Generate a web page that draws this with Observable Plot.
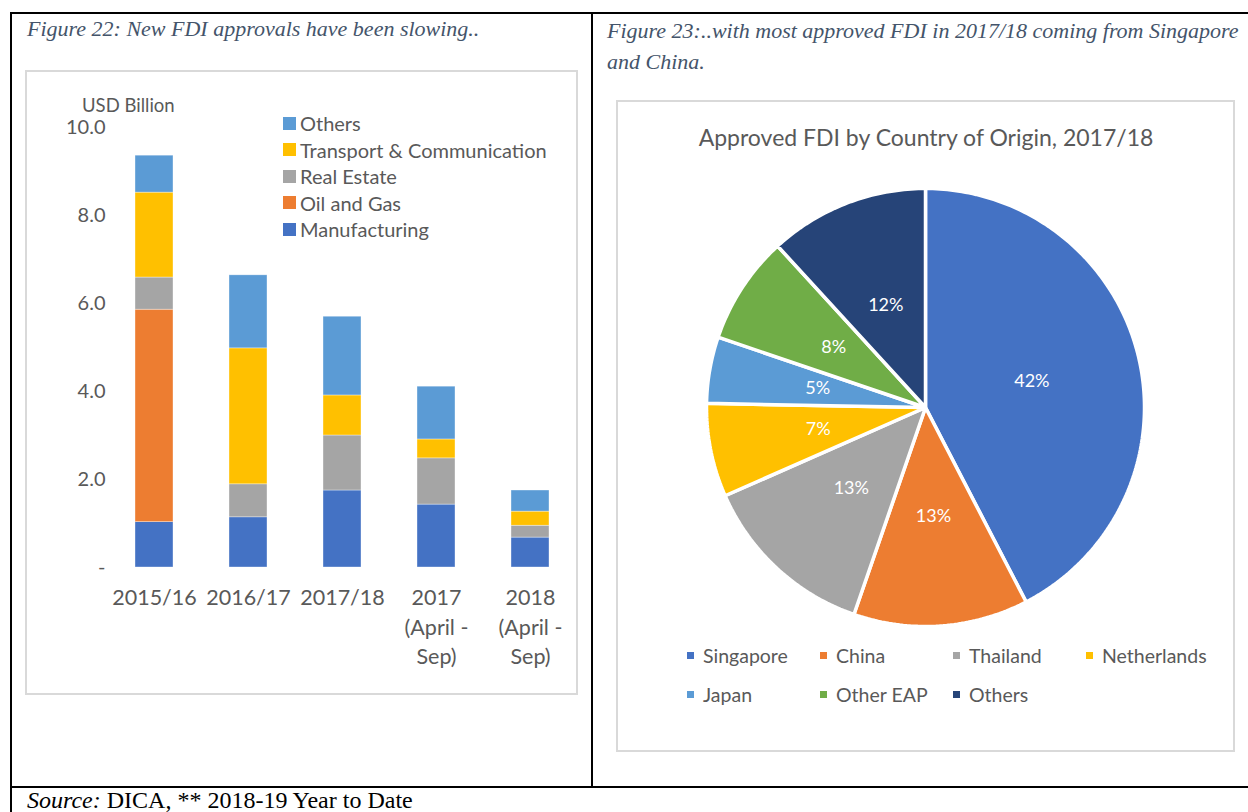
<!DOCTYPE html>
<html>
<head>
<meta charset="utf-8">
<script src="https://cdn.jsdelivr.net/npm/d3@7"></script>
<script src="https://cdn.jsdelivr.net/npm/@observablehq/plot@0.6"></script>
<style>
  html, body { margin: 0; padding: 0; background: #fff; }
  #page { position: relative; width: 1248px; height: 812px; overflow: hidden; background: #fff; }
  .abs { position: absolute; }
  .cap { font-family: "Liberation Serif", "DejaVu Serif", serif; font-style: italic; color: #44546A; font-size: 22px; white-space: nowrap; }
  .lbl { font-family: Lato, "Open Sans", sans-serif; color: #595959; white-space: nowrap; }
  .box { border: 2px solid #D9D9D9; box-sizing: border-box; }
  .line { background: #000; }
  .leg { display: flex; align-items: center; }
  .sw { display: inline-block; }
</style>
</head>
<body>
<div id="page">
  <!-- table borders -->
  <div class="abs line" style="left:10px;top:12px;width:1238px;height:2px"></div>
  <div class="abs line" style="left:10px;top:12px;width:2px;height:800px"></div>
  <div class="abs line" style="left:591px;top:12px;width:2px;height:776px"></div>
  <div class="abs line" style="left:10px;top:786px;width:1238px;height:2px"></div>

  <div class="abs cap" style="left:27px;top:16px">Figure 22: New FDI approvals have been slowing..</div>
  <div class="abs cap" style="left:607px;top:15px;line-height:31px">Figure 23:..with most approved FDI in 2017/18 coming from Singapore<br>and China.</div>
  <div class="abs" style="left:27px;top:787px;font-family:'Liberation Serif',serif;font-size:24px;color:#000;white-space:nowrap"><i>Source:</i> DICA, ** 2018-19 Year to Date</div>

  <div class="abs box" style="left:25px;top:70px;width:553px;height:625px"></div>
  <div class="abs box" style="left:616px;top:100px;width:619px;height:652px"></div>

  <div id="bar" class="abs" style="left:25px;top:71px"></div>
  <div class="abs lbl" style="left:82px;top:94px;font-size:18.5px">USD Billion</div>
  <div id="barLegend" class="abs" style="left:283px;top:110px"></div>

  <div id="pie" class="abs" style="left:617px;top:100px"></div>
  <div class="abs lbl" style="left:617px;top:123px;width:618px;text-align:center;font-size:23px">Approved FDI by Country of Origin, 2017/18</div>
  <div id="pieLegend" class="abs" style="left:687px;top:642px"></div>
</div>
<script>
// ---------- Figure 22 data (USD billion) ----------
const periods = ["2015/16", "2016/17", "2017/18", "2017\n(April -\nSep)", "2018\n(April -\nSep)"];
const sectors = ["Manufacturing", "Oil and Gas", "Real Estate", "Transport & Communication", "Others"];
const sectorColors = ["#4472C4", "#ED7D31", "#A5A5A5", "#FFC000", "#5B9BD5"];
const manufacturing = [1.03, 1.14, 1.75, 1.43, 0.68];
const oilAndGas     = [4.83, 0.00, 0.00, 0.00, 0.00];
const realEstate    = [0.73, 0.75, 1.25, 1.05, 0.27];
const transportComm = [1.93, 3.09, 0.91, 0.43, 0.32];
const othersSector  = [0.84, 1.66, 1.79, 1.20, 0.48];
const yTicks = [0, 2, 4, 6, 8, 10];

// ---------- Figure 23 data (share of approved FDI, %) ----------
const countries = ["Singapore", "China", "Thailand", "Netherlands", "Japan", "Other EAP", "Others"];
const countryColors = ["#4472C4", "#ED7D31", "#A5A5A5", "#FFC000", "#5B9BD5", "#70AD47", "#264478"];
const shares = [42.4, 12.9, 13.1, 6.9, 4.9, 8.0, 11.8];

// ---------- Bar chart ----------
const seriesValues = [manufacturing, oilAndGas, realEstate, transportComm, othersSector];
const barData = [];
sectors.forEach((s, i) => periods.forEach((p, j) => barData.push({period: p, sector: s, value: seriesValues[i][j]})));

const barChart = Plot.plot({
  width: 553, height: 624,
  marginLeft: 90, marginRight: 9, marginTop: 56, marginBottom: 128,
  style: {fontFamily: "Lato, 'Open Sans', sans-serif", color: "#595959", background: "transparent"},
  x: {domain: periods, paddingInner: 0.6, paddingOuter: 0.2, axis: null},
  y: {domain: [0, 10], axis: null},
  color: {domain: sectors, range: sectorColors},
  marks: [
    Plot.barY(barData, {x: "period", y: "value", fill: "sector", stroke: "#fff", strokeWidth: 0.6, strokeOpacity: 0.6}),
    Plot.axisY(yTicks, {tickSize: 0, tickPadding: 10, fontSize: 20, tickFormat: d => d === 0 ? "-" : d3.format(".1f")(d), label: null}),
    Plot.text(periods, {x: d => d, frameAnchor: "bottom", lineAnchor: "top", dy: 17, fontSize: 21.5, lineHeight: 1.37, fill: "#595959"})
  ]
});
document.getElementById("bar").appendChild(barChart);

// bar legend (top item = top of stack)
const bl = document.getElementById("barLegend");
[...sectors].reverse().forEach((s) => {
  const i = sectors.indexOf(s);
  const row = document.createElement("div");
  row.className = "leg lbl";
  row.style.cssText = "height:26.5px;font-size:20px;";
  row.innerHTML = `<span class="sw" style="width:13px;height:13px;background:${sectorColors[i]};margin-right:4px"></span>${s}`;
  bl.appendChild(row);
});

// ---------- Pie chart ----------
const total = d3.sum(shares);
const arcs = d3.pie().sort(null).value(d => d)(shares);
const pieOutline = [];
const pieLabels = [];
arcs.forEach((a, i) => {
  const n = Math.max(8, Math.ceil((a.endAngle - a.startAngle) * 60));
  pieOutline.push({name: countries[i], x: 0, y: 0});
  for (let k = 0; k <= n; k++) {
    const t = a.startAngle + (a.endAngle - a.startAngle) * k / n;
    pieOutline.push({name: countries[i], x: Math.sin(t), y: Math.cos(t)});
  }
  const m = (a.startAngle + a.endAngle) / 2;
  pieLabels.push({name: countries[i], x: 0.5 * Math.sin(m), y: 0.5 * Math.cos(m), text: Math.round(shares[i] / total * 100) + "%"});
});

const pieChart = Plot.plot({
  width: 618, height: 650,
  marginLeft: 89, marginRight: 91, marginTop: 88, marginBottom: 124,
  style: {fontFamily: "Lato, 'Open Sans', sans-serif", background: "transparent"},
  x: {domain: [-1, 1], axis: null},
  y: {domain: [-1, 1], axis: null},
  color: {domain: countries, range: countryColors},
  marks: [
    Plot.line(pieOutline, {x: "x", y: "y", z: "name", fill: "name", stroke: "#fff", strokeWidth: 3.5, strokeLinejoin: "miter", curve: "linear-closed"}),
    Plot.text(pieLabels, {x: "x", y: "y", text: "text", fill: "#fff", fontSize: 18})
  ]
});
document.getElementById("pie").appendChild(pieChart);

// pie legend
const pl = document.getElementById("pieLegend");
pl.style.cssText += "display:grid;grid-template-columns:133px 133px 133px 160px;row-gap:13px;";
countries.forEach((c, i) => {
  const cell = document.createElement("div");
  cell.className = "leg lbl";
  cell.style.cssText = "font-size:19.5px;height:26px;";
  cell.innerHTML = `<span class="sw" style="width:7px;height:7px;background:${countryColors[i]};margin-right:9px"></span>${c}`;
  pl.appendChild(cell);
});
</script>
</body>
</html>
